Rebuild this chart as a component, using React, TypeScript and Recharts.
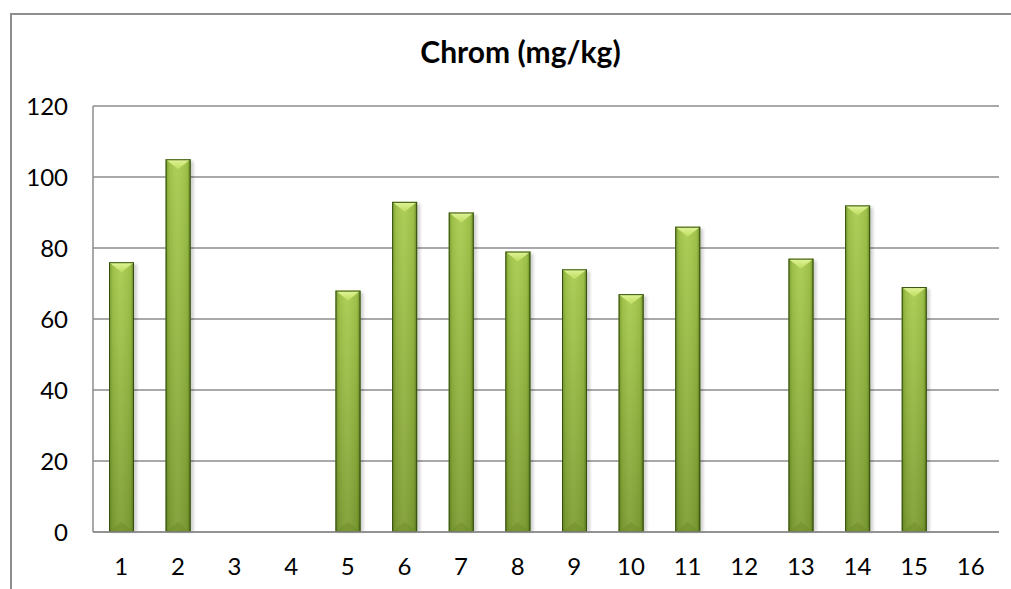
import React from "react";
import { BarChart, Bar, XAxis, YAxis, CartesianGrid } from "recharts";

const categories = ["1", "2", "3", "4", "5", "6", "7", "8", "9", "10", "11", "12", "13", "14", "15", "16"];
const chromValues: (number | null)[] = [76, 105, null, null, 68, 93, 90, 79, 74, 67, 86, null, 77, 92, 69, null];
const yTicks = [0, 20, 40, 60, 80, 100, 120];
const title = "Chrom (mg/kg)";

const data = categories.map((c, i) => ({ name: c, value: chromValues[i] }));

const FONT = "Lato, 'Open Sans', 'DejaVu Sans', sans-serif";

const BevelBar = (props: any) => {
  const { x, y, width: w, height: h } = props;
  if (h == null || !isFinite(h) || h <= 0) return null;
  const b = Math.min(10, h / 2);
  return (
    <g>
      <rect x={x + 2} y={y + 2} width={w + 1} height={h - 2} fill="#000" opacity={0.18} filter="url(#shadowBlur)" />
      <rect x={x} y={y} width={w} height={h} fill="url(#barV)" />
      <rect x={x} y={y} width={w} height={h} fill="url(#barH)" />
      <polygon points={`${x},${y} ${x + w},${y} ${x + w / 2},${y + b}`} fill="url(#topBevel)" />
      <polygon points={`${x},${y + h} ${x + w},${y + h} ${x + w / 2},${y + h - b}`} fill="#6c8a28" opacity={0.45} />
      <rect x={x + 0.5} y={y + 0.5} width={w - 1} height={h - 1} fill="none" stroke="#34500e" strokeWidth={1} />
    </g>
  );
};

export default function App() {
  return (
    <div
      style={{
        position: "fixed",
        left: 0,
        top: 0,
        width: 1011,
        height: 589,
        overflow: "hidden",
        background: "#fff",
        fontFamily: FONT,
      }}
    >
      <div
        style={{
          position: "absolute",
          left: 10,
          top: 13,
          width: 1001,
          height: 2,
          background: "#8e8e8e",
        }}
      />
      <div
        style={{
          position: "absolute",
          left: 10,
          top: 13,
          width: 2,
          height: 576,
          background: "#8e8e8e",
        }}
      />
      <div
        style={{
          position: "absolute",
          left: 8,
          top: 33,
          width: 1025,
          textAlign: "center",
          fontWeight: 700,
          fontSize: 30,
          color: "#000",
          fontFamily: FONT,
          lineHeight: "36px",
        }}
      >
        {title}
      </div>
      <div style={{ position: "absolute", left: 8, top: 8 }}>
        <BarChart
          width={1003}
          height={581}
          data={data}
          margin={{ top: 98, right: 12, left: 0, bottom: 0 }}
        >
          <defs>
            <linearGradient id="barV" x1="0" y1="0" x2="0" y2="1">
              <stop offset="0%" stopColor="#a8cb4e" />
              <stop offset="100%" stopColor="#7e9d33" />
            </linearGradient>
            <linearGradient id="barH" x1="0" y1="0" x2="1" y2="0">
              <stop offset="0%" stopColor="#3d5a10" stopOpacity={0.45} />
              <stop offset="14%" stopColor="#3d5a10" stopOpacity={0.1} />
              <stop offset="45%" stopColor="#ffffff" stopOpacity={0.06} />
              <stop offset="86%" stopColor="#3d5a10" stopOpacity={0.1} />
              <stop offset="100%" stopColor="#2c440a" stopOpacity={0.55} />
            </linearGradient>
            <linearGradient id="topBevel" x1="0" y1="0" x2="0" y2="1">
              <stop offset="0%" stopColor="#e2f59a" />
              <stop offset="100%" stopColor="#bcdc5e" />
            </linearGradient>
            <filter id="shadowBlur" x="-50%" y="-10%" width="200%" height="120%">
              <feGaussianBlur stdDeviation="1.5" />
            </filter>
          </defs>
          <CartesianGrid vertical={false} stroke="#8c8c8c" strokeWidth={1.5} />
          <XAxis
            dataKey="name"
            stroke="#8c8c8c"
            strokeWidth={1.5}
            tickLine={false}
            tickSize={0}
            tickMargin={26}
            height={57}
            tick={{ fill: "#000", fontSize: 24, fontFamily: FONT }}
            interval={0}
          />
          <YAxis
            domain={[0, 120]}
            ticks={yTicks}
            stroke="#8c8c8c"
            strokeWidth={1.5}
            tickLine={false}
            tickSize={0}
            tickMargin={25}
            width={85}
            tick={{ fill: "#000", fontSize: 24, fontFamily: FONT }}
            interval={0}
          />
          <Bar dataKey="value" barSize={25} shape={BevelBar} isAnimationActive={false} />
        </BarChart>
      </div>
    </div>
  );
}
